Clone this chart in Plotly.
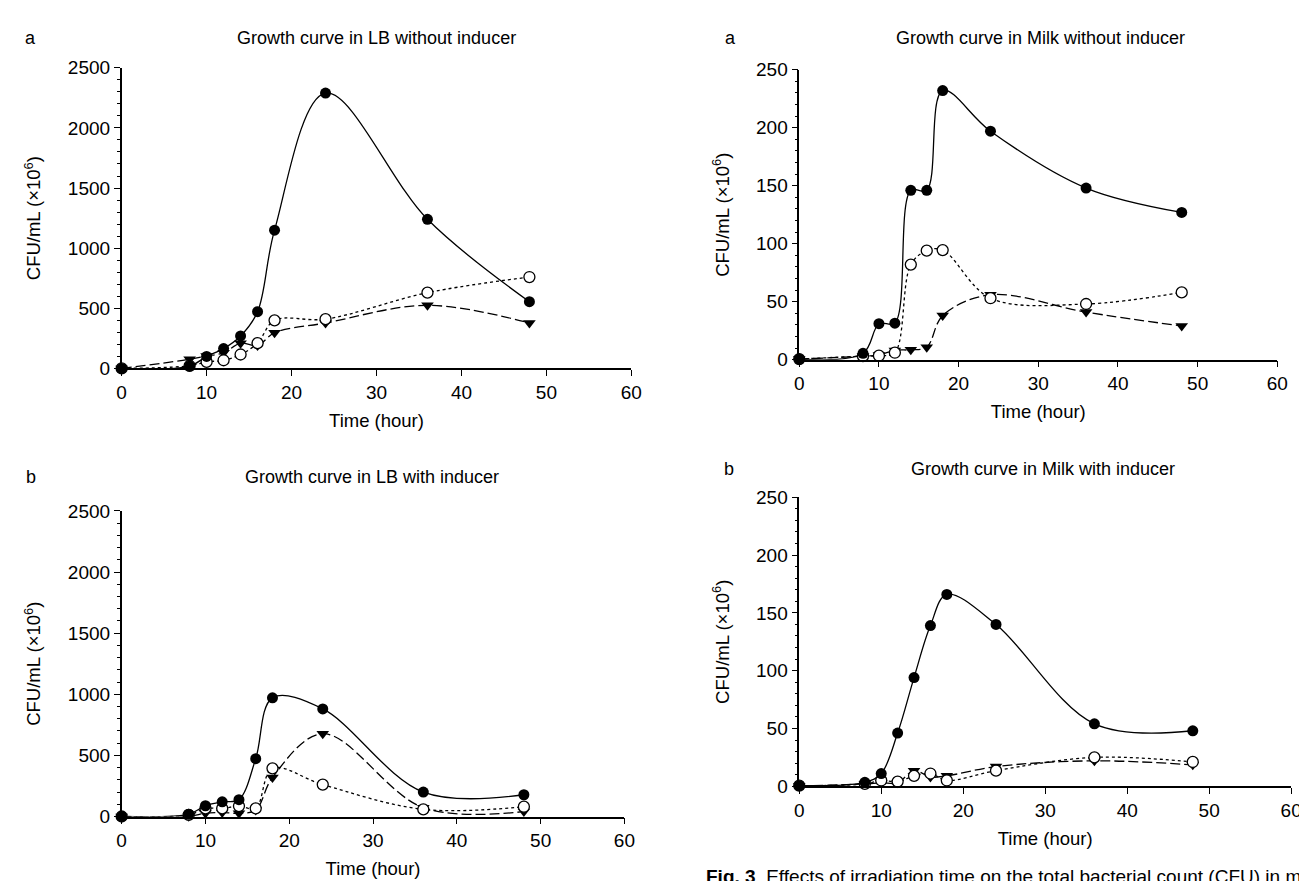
import plotly.graph_objects as go

W, H = 1307, 881

# ---------------- data ----------------
time_h = [0, 8, 10, 12, 14, 16, 18, 24, 36, 48]

# LB without inducer
lb_noind_filled = [0, 20, 100, 165, 270, 472, 1150, 2290, 1240, 555]
lb_noind_open = [0, 22, 54, 68, 116, 210, 400, 410, 630, 760]
lb_noind_tri = [0, 76, 103, 130, 210, 190, 297, 378, 525, 378]

# Milk without inducer
milk_noind_filled = [0.5, 5.5, 31, 31.5, 146, 146, 232, 197, 148, 127]
milk_noind_open = [0.5, 3, 3.4, 6, 82, 94, 94.5, 53, 48, 58]
milk_noind_tri = [0.5, 3, 4, 8, 8.5, 10.7, 38, 56, 41, 29]

# LB with inducer
lb_ind_filled = [0, 19, 88, 120, 138, 473, 971, 880, 200, 178]
lb_ind_open = [0, 13, 66, 66, 85, 66, 394, 261, 58, 80]
lb_ind_tri = [0, 2, 27, 32, 27, 53, 319, 678, 72, 40]

# Milk with inducer
milk_ind_filled = [0.5, 3.4, 11, 46, 94, 139, 166, 140, 54, 48]
milk_ind_open = [0.5, 2, 5, 4, 9, 11, 5, 13.5, 25, 21]
milk_ind_tri = [0.3, 2, 3, 3, 13.5, 8, 9, 17, 22, 18.5]

panel_titles = ["Growth curve in LB without inducer",
                "Growth curve in Milk without inducer",
                "Growth curve in LB with inducer",
                "Growth curve in Milk with inducer"]
panel_letters = ["a", "a", "b", "b"]
x_ticks = [0, 10, 20, 30, 40, 50, 60]
lb_yticks = [0, 500, 1000, 1500, 2000, 2500]
milk_yticks = [0, 50, 100, 150, 200, 250]
x_title = "Time (hour)"
y_title = "CFU/mL (×10<sup>6</sup>)"
caption_bold = "Fig. 3"
caption_text = "Effects of irradiation time on the total bacterial count (CFU) in milk"

# ---------------- layout (pixels) ----------------
# (x0, x60, yTop, yZero) in page pixels
boxes = [
    (110, 626, 51, 359),
    (796, 1280, 53, 350),
    (110, 619, 505, 818),
    (796, 1294, 491, 787),
]
title_pos = [(368, 20), (1040, 20), (363, 470), (1043, 462)]
letter_pos = [(18, 20), (726, 20), (18, 470), (725, 462)]

FONT = "Liberation Sans, Arial, Helvetica, sans-serif"
fig = go.Figure()

panels = [
    (lb_noind_filled, lb_noind_open, lb_noind_tri, lb_yticks, 100),
    (milk_noind_filled, milk_noind_open, milk_noind_tri, milk_yticks, 10),
    (lb_ind_filled, lb_ind_open, lb_ind_tri, lb_yticks, 100),
    (milk_ind_filled, milk_ind_open, milk_ind_tri, milk_yticks, 10),
]

def px_x(p):
    return p / W

def px_y(p):
    return 1 - p / H

for i, (filled, openv, tri, yt, minor_dt) in enumerate(panels):
    n = i + 1
    xa = "x" if n == 1 else f"x{n}"
    ya = "y" if n == 1 else f"y{n}"
    common = dict(x=time_h, xaxis=xa, yaxis=ya, mode="lines+markers",
                  showlegend=False, cliponaxis=False)
    fig.add_trace(go.Scatter(y=tri, line=dict(color="black", width=1.3, dash="10px,4px", shape="spline"),
                             marker=dict(symbol="triangle-down", size=11, color="black"), **common))
    fig.add_trace(go.Scatter(y=openv, line=dict(color="black", width=1.3, dash="dot", shape="spline"),
                             marker=dict(symbol="circle", size=11, color="white",
                                         line=dict(color="black", width=1.3)), **common))
    fig.add_trace(go.Scatter(y=filled, line=dict(color="black", width=1.3, shape="spline"),
                             marker=dict(symbol="circle", size=11, color="black"), **common))

    x0, x60, yt_px, y0_px = boxes[i]
    xkey = "xaxis" if n == 1 else f"xaxis{n}"
    ykey = "yaxis" if n == 1 else f"yaxis{n}"
    fig.layout[xkey] = dict(
        domain=[px_x(x0), px_x(x60)], anchor=ya, range=[0, 60],
        tickvals=x_ticks, ticks="outside", ticklen=6, tickwidth=1.3, tickcolor="black",
        showline=True, linecolor="black", linewidth=1.5, showgrid=False, zeroline=False,
        tickfont=dict(family=FONT, size=19, color="black"),
        title=dict(text=x_title, font=dict(family=FONT, size=18.5, color="black"), standoff=12),
    )
    fig.layout[ykey] = dict(
        domain=[px_y(y0_px), px_y(yt_px)], anchor=xa, range=[0, yt[-1]],
        tickvals=yt, ticks="outside", ticklen=6, tickwidth=1.3, tickcolor="black",
        minor=dict(dtick=minor_dt, ticks="outside", ticklen=3, tickwidth=1, tickcolor="black"),
        showline=True, linecolor="black", linewidth=1.5, showgrid=False, zeroline=False,
        tickfont=dict(family=FONT, size=19, color="black"),
        title=dict(text=y_title, font=dict(family=FONT, size=18.5, color="black"), standoff=22),
    )
    tx, ty = title_pos[i]
    fig.add_annotation(text=panel_titles[i], x=px_x(tx), y=px_y(ty), xref="paper", yref="paper",
                       showarrow=False, xanchor="center", yanchor="middle",
                       font=dict(family=FONT, size=18, color="black"))
    lx, ly = letter_pos[i]
    fig.add_annotation(text=panel_letters[i], x=px_x(lx), y=px_y(ly), xref="paper", yref="paper",
                       showarrow=False, xanchor="center", yanchor="middle",
                       font=dict(family=FONT, size=18, color="black"))

fig.add_annotation(text=f"<b>{caption_bold}</b>  {caption_text}", x=px_x(700), y=px_y(879),
                   xref="paper", yref="paper", showarrow=False, xanchor="left", yanchor="middle",
                   font=dict(family=FONT, size=19, color="black"))

fig.update_layout(width=W, height=H, margin=dict(l=0, r=0, t=0, b=0),
                  paper_bgcolor="white", plot_bgcolor="white")
fig.write_html("out.html")
